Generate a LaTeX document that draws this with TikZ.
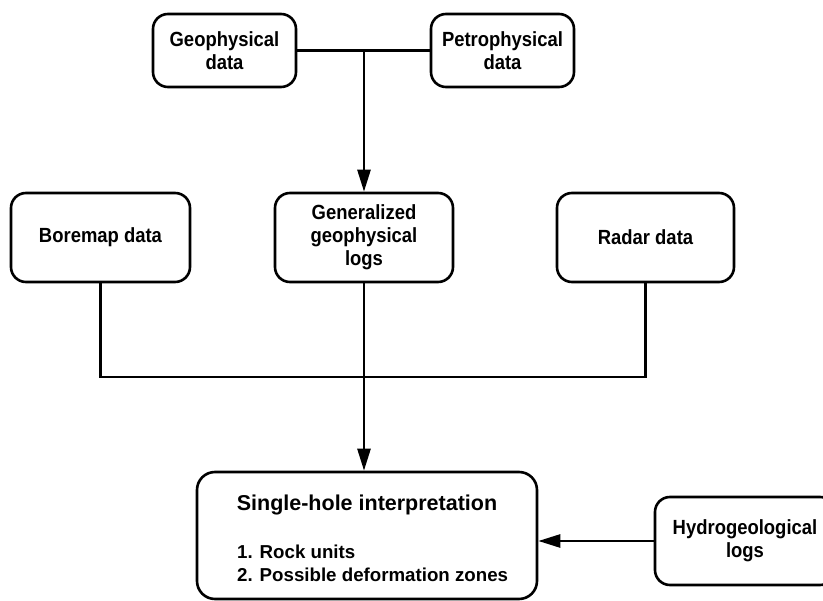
\documentclass[tikz,border=0pt]{standalone}
\usepackage{fontspec}
\setmainfont{Liberation Sans}
\newfontfamily\boxfont{Liberation Sans}[FakeStretch=0.9]
\usetikzlibrary{arrows.meta}
\begin{document}
\begin{tikzpicture}[x=1pt,y=-1pt,
  box/.style={draw, line width=2.6pt, rounded corners=15pt, align=center,
    font=\boxfont\fontsize{20.5}{23}\selectfont\bfseries, inner sep=0pt},
  conn/.style={line width=2.6pt},
  arr/.style={conn, -{Triangle[length=22pt,width=13pt]}}]
\clip (0,0) rectangle (823,601);
\fill[white] (0,0) rectangle (823,601);
% top row
\node[box, minimum width=143pt, minimum height=73pt] (geo) at (224.5,50.5) {Geophysical\\data};
\node[box, minimum width=143pt, minimum height=73pt] (petro) at (502.5,50.5) {Petrophysical\\data};
% middle row
\node[box, minimum width=179pt, minimum height=89pt] (bore) at (100.5,237.5) {Boremap data};
\node[box, minimum width=178pt, minimum height=89pt] (gen) at (364,237.5) {Generalized\\geophysical\\logs};
\node[box, minimum width=177pt, minimum height=89pt] (radar) at (645.5,237.5) {Radar data};
% bottom
\node[box, rounded corners=18pt, minimum width=340pt, minimum height=127pt] (shb) at (367,535.5) {};
\node[font=\fontsize{21.5}{25}\selectfont\bfseries, inner sep=0pt] (title) at (367,505) {Single-hole interpretation};
\node[anchor=west, align=left, font=\fontsize{18.7}{23}\selectfont\bfseries, inner sep=0pt] (items) at (237,563.5) {1. Rock units\\2. Possible deformation zones};
\node[box, minimum width=180pt, minimum height=88pt] (hydro) at (745,541) {Hydrogeological\\logs};
% connectors
\coordinate (jb) at (364,377);
\draw[conn] (geo.east) -- (petro.west);
\draw[arr] (geo.east -| gen.north) -- (gen.north);
\draw[conn] (bore.south) -- (bore.south |- jb) -- (radar.south |- jb) -- (radar.south);
\draw[arr] (gen.south) -- (gen.south |- shb.north);
\draw[arr] (hydro.west) -- (hydro.west -| shb.east);
\end{tikzpicture}
\end{document}
